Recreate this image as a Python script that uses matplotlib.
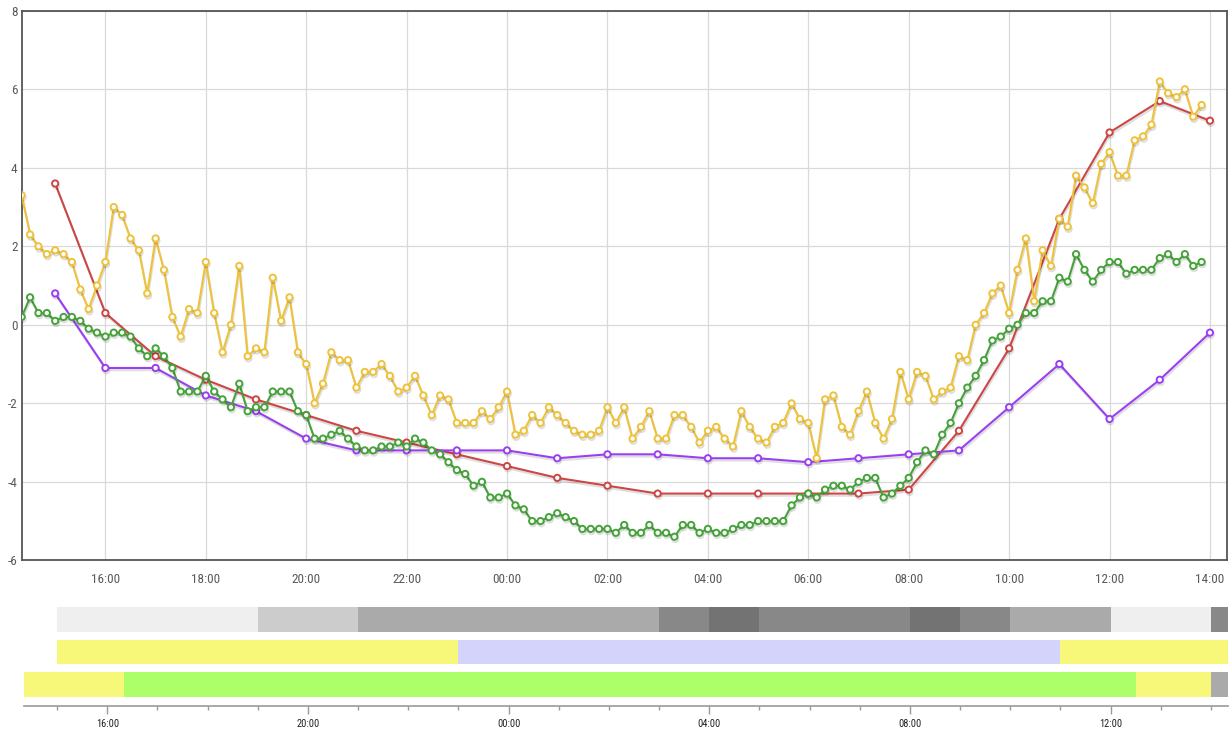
import matplotlib
matplotlib.use("Agg")
import matplotlib.pyplot as plt
import matplotlib.dates as mdates
import matplotlib.patheffects as pe
from matplotlib import font_manager
import pandas as pd

# ---------------- data ----------------
# 10-minute series, starting 14:20
fine_start = "14:20"
green_vals = [
    0.2, 0.7, 0.3, 0.3, 0.1, 0.2, 0.2, 0.1, -0.1, -0.2,
    -0.3, -0.2, -0.2, -0.3, -0.6, -0.8, -0.6, -0.8, -1.1, -1.7,
    -1.7, -1.7, -1.3, -1.7, -1.9, -2.1, -1.5, -2.2, -2.1, -2.1,
    -1.7, -1.7, -1.7, -2.2, -2.3, -2.9, -2.9, -2.8, -2.7, -2.9,
    -3.1, -3.2, -3.2, -3.1, -3.1, -3.0, -3.1, -2.9, -3.0, -3.2,
    -3.3, -3.5, -3.7, -3.8, -4.1, -4.0, -4.4, -4.4, -4.3, -4.6,
    -4.7, -5.0, -5.0, -4.9, -4.8, -4.9, -5.0, -5.2, -5.2, -5.2,
    -5.2, -5.3, -5.1, -5.3, -5.3, -5.1, -5.3, -5.3, -5.4, -5.1,
    -5.1, -5.3, -5.2, -5.3, -5.3, -5.2, -5.1, -5.1, -5.0, -5.0,
    -5.0, -5.0, -4.6, -4.4, -4.3, -4.4, -4.2, -4.1, -4.1, -4.2,
    -4.0, -3.9, -3.9, -4.4, -4.3, -4.1, -3.9, -3.5, -3.2, -3.3,
    -2.8, -2.5, -2.0, -1.6, -1.3, -0.9, -0.4, -0.3, -0.1, 0.0,
    0.3, 0.3, 0.6, 0.6, 1.2, 1.1, 1.8, 1.4, 1.1, 1.4,
    1.6, 1.6, 1.3, 1.4, 1.4, 1.4, 1.7, 1.8, 1.6, 1.8,
    1.5, 1.6,
]
yellow_vals = [
    3.3, 2.3, 2.0, 1.8, 1.9, 1.8, 1.6, 0.9, 0.4, 1.0,
    1.6, 3.0, 2.8, 2.2, 1.9, 0.8, 2.2, 1.4, 0.2, -0.3,
    0.4, 0.3, 1.6, 0.3, -0.7, 0.0, 1.5, -0.8, -0.6, -0.7,
    1.2, 0.1, 0.7, -0.7, -1.0, -2.0, -1.5, -0.7, -0.9, -0.9,
    -1.6, -1.2, -1.2, -1.0, -1.3, -1.7, -1.6, -1.3, -1.8, -2.3,
    -1.8, -1.9, -2.5, -2.5, -2.5, -2.2, -2.4, -2.1, -1.7, -2.8,
    -2.7, -2.3, -2.5, -2.1, -2.3, -2.5, -2.7, -2.8, -2.8, -2.7,
    -2.1, -2.5, -2.1, -2.9, -2.6, -2.2, -2.9, -2.9, -2.3, -2.3,
    -2.6, -3.0, -2.7, -2.6, -2.9, -3.1, -2.2, -2.6, -2.9, -3.0,
    -2.6, -2.5, -2.0, -2.4, -2.5, -3.4, -1.9, -1.8, -2.6, -2.8,
    -2.2, -1.7, -2.5, -2.9, -2.4, -1.2, -1.9, -1.2, -1.3, -1.9,
    -1.7, -1.6, -0.8, -0.9, 0.0, 0.3, 0.8, 1.0, 0.3, 1.4,
    2.2, 0.6, 1.9, 1.5, 2.7, 2.5, 3.8, 3.5, 3.1, 4.1,
    4.4, 3.8, 3.8, 4.7, 4.8, 5.1, 6.2, 5.9, 5.8, 6.0,
    5.3, 5.6,
]
# hourly series, starting 15:00
hourly_start = "15:00"
red_vals = [3.6, 0.3, -0.8, -1.4, -1.9, -2.3, -2.7, -3.0, -3.3, -3.6, -3.9, -4.1,
            -4.3, -4.3, -4.3, -4.3, -4.3, -4.2, -2.7, -0.6, 2.7, 4.9, 5.7, 5.2]
purple_vals = [0.8, -1.1, -1.1, -1.8, -2.2, -2.9, -3.2, -3.2, -3.2, -3.2, -3.4, -3.3,
               -3.3, -3.4, -3.4, -3.5, -3.4, -3.3, -3.2, -2.1, -1.0, -2.4, -1.4, -0.2]

y_ticks = [-6, -4, -2, 0, 2, 4, 6, 8]
main_xticks = ["16:00", "18:00", "20:00", "22:00", "00:00", "02:00", "04:00",
               "06:00", "08:00", "10:00", "12:00", "14:00"]
strip_major = ["16:00", "20:00", "00:00", "04:00", "08:00", "12:00"]

# bands below the chart: boundaries and colours
band1_times = ["15:00", "19:00", "21:00", "03:00", "04:00", "05:00", "08:00",
               "09:00", "10:00", "12:00", "14:00", "14:20"]
band1_colors = ["#efefef", "#cccccc", "#aaaaaa", "#888888", "#737373", "#888888",
                "#737373", "#888888", "#aaaaaa", "#efefef", "#888888"]
band2_times = ["15:00", "23:00", "11:00", "14:20"]
band2_colors = ["#f7f77a", "#d3d3fb", "#f7f77a"]
band3_times = ["14:20", "16:20", "12:30", "14:00", "14:20"]
band3_colors = ["#f7f77a", "#adff6a", "#f7f77a", "#aaaaaa"]

# ---------------- helpers ----------------
DAY0 = pd.Timestamp("2024-01-01")
WIN_START = DAY0 + pd.Timedelta(hours=14, minutes=20)
WIN_END = WIN_START + pd.Timedelta(days=1)


def seq_times(labels):
    """Convert HH:MM labels to increasing timestamps inside the window."""
    out = []
    prev = None
    for lab in labels:
        h, m = map(int, lab.split(":"))
        ts = DAY0 + pd.Timedelta(hours=h, minutes=m)
        if ts < WIN_START:
            ts += pd.Timedelta(days=1)
        while prev is not None and ts <= prev:
            ts += pd.Timedelta(days=1)
        out.append(ts)
        prev = ts
    return out


def t1(lab):
    return seq_times([lab])[0]


fine_x = pd.date_range(t1(fine_start), periods=len(green_vals), freq="10min")
hourly_x = pd.date_range(t1(hourly_start), periods=len(red_vals), freq="60min")

# pick a narrow font if one is installed
label_family = "DejaVu Sans"
label_stretch = "normal"
label_scale = 1.0
for cand in ["Liberation Sans Narrow", "Roboto Condensed", "Arial Narrow"]:
    try:
        font_manager.findfont(font_manager.FontProperties(family=cand), fallback_to_default=False)
        label_family = cand
        break
    except Exception:
        continue
else:
    p = font_manager.findfont(font_manager.FontProperties(family="DejaVu Sans", stretch="condensed"))
    if "Condensed" in p:
        label_stretch = "condensed"
    else:
        label_family = "Liberation Sans"
        label_scale = 0.85

plt.rcParams["font.family"] = [label_family, "DejaVu Sans"]
plt.rcParams["font.stretch"] = label_stretch

W, H = 1230, 735
fig = plt.figure(figsize=(W / 100, H / 100), dpi=100)

# ---------------- main chart ----------------
left_px, right_px, top_px, bot_px = 21.7, 1226.7, 10.8, 560.3
ax = fig.add_axes([left_px / W, 1 - bot_px / H, (right_px - left_px) / W, (bot_px - top_px) / H])
ax.set_xlim(WIN_START, WIN_END)
ax.set_ylim(-6, 8)

ax.set_yticks(y_ticks)
ax.set_yticklabels([str(v) for v in y_ticks])
ax.set_xticks([t1(s) for s in main_xticks])
ax.set_xticklabels(main_xticks)
ax.tick_params(axis="both", length=0, labelsize=9.5 * label_scale, colors="#5a5a5a")
ax.tick_params(axis="x", pad=9)
ax.tick_params(axis="y", pad=3)
ax.grid(True, color="#d9d9d9", linewidth=0.9)
ax.set_axisbelow(True)
for s in ax.spines.values():
    s.set_color("#555555")
    s.set_linewidth(1.3)

shadow = [pe.SimpleLineShadow(offset=(0.6, -1.6), shadow_color="black", alpha=0.13), pe.Normal()]

series = [
    (hourly_x, red_vals, "#cc4646"),
    (hourly_x, purple_vals, "#9a3ff0"),
    (fine_x, green_vals, "#45a33a"),
    (fine_x, yellow_vals, "#efc23c"),
]
for i, (xs, ys, col) in enumerate(series):
    ax.plot(xs, ys, color=col, linewidth=1.5, marker="o", markersize=4.5,
            markerfacecolor="white", markeredgecolor=col, markeredgewidth=1.4,
            path_effects=shadow, zorder=3 + i)

# ---------------- bands ----------------
s_left, s_right, s_top, s_bot = 23.7, 1227.6, 600.0, 705.7
ax2 = fig.add_axes([s_left / W, 1 - s_bot / H, (s_right - s_left) / W, (s_bot - s_top) / H])
ax2.set_xlim(WIN_START, WIN_END)
ax2.set_ylim(s_bot - s_top, 0)

rows = [
    (band1_times, band1_colors, 606.7, 631.7),
    (band2_times, band2_colors, 640.0, 664.0),
    (band3_times, band3_colors, 672.3, 697.0),
]
for times, cols, y0, y1 in rows:
    ts = [mdates.date2num(v) for v in seq_times(times)]
    segs = [(ts[k], ts[k + 1] - ts[k]) for k in range(len(cols))]
    ax2.broken_barh(segs, (y0 - s_top, y1 - y0), facecolors=cols, edgecolor="none")

for side in ("top", "left", "right"):
    ax2.spines[side].set_visible(False)
ax2.spines["bottom"].set_color("#999999")
ax2.spines["bottom"].set_linewidth(1.2)
ax2.set_yticks([])
ax2.set_xticks([t1(s) for s in strip_major])
ax2.set_xticklabels(strip_major)
ax2.xaxis.set_minor_locator(mdates.HourLocator())
ax2.tick_params(axis="x", which="major", length=5.5, width=1, color="#999999",
                labelsize=7.5 * label_scale, labelcolor="#222222", pad=4)
ax2.tick_params(axis="x", which="minor", length=3, width=1, color="#999999")

fig.savefig("out.png", dpi=100)
